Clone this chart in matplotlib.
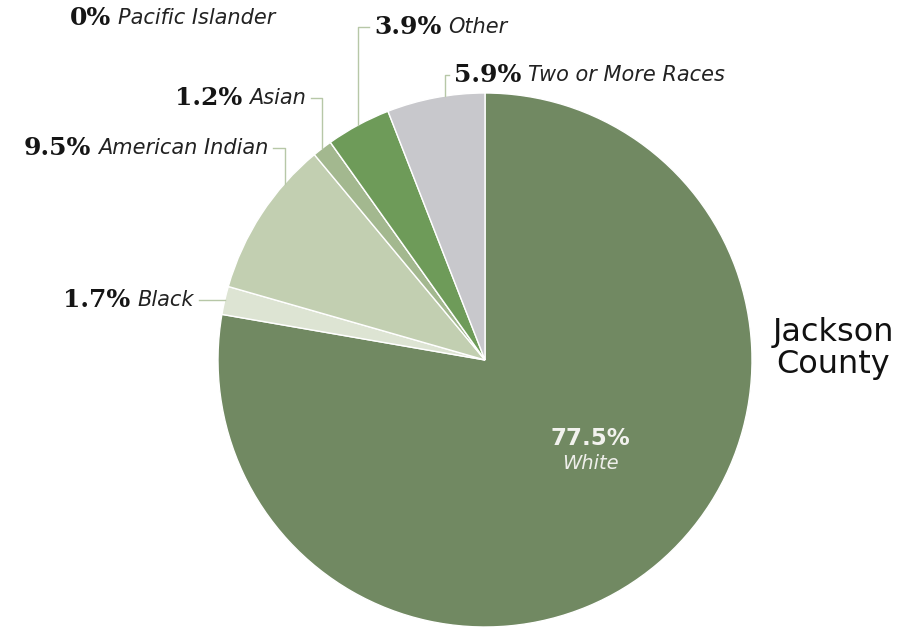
import matplotlib.pyplot as plt
import numpy as np

# race breakdown, clockwise from 12 o'clock
races = ['White', 'Black', 'American Indian', 'Asian', 'Pacific Islander',
         'Other', 'Two or More Races']
shares = [77.5, 1.7, 9.5, 1.2, 0.0, 3.9, 5.9]
colors = ['#718962', '#dde4d3', '#c2cfb1', '#a3b88f', '#8aa877',
          '#6e9b59', '#c8c8cc']

W, H = 917, 628
cx, cy, R = 485, H - 360, 267

fig = plt.figure(figsize=(W / 100, H / 100), dpi=100)
ax = fig.add_axes([0, 0, 1, 1])

wedges, _ = ax.pie(shares, colors=colors, startangle=90, counterclock=False,
                   center=(cx, cy), radius=R,
                   wedgeprops=dict(edgecolor='white', linewidth=1))
ax.set_xlim(0, W)
ax.set_ylim(0, H)
ax.set_aspect('equal')
ax.axis('off')

pct_font = dict(family='DejaVu Serif', weight='bold', size=18, color='#151515')
name_font = dict(family='DejaVu Sans', style='italic', size=15, color='#222222')
line_col = '#b7c7a7'

# label layout: (text x, text y from top or None, side, position along wedge)
layout = {
    'Black': (194, None, 'left', 0.5),
    'American Indian': (268, 148, 'left', 0.74),
    'Asian': (306, 98, 'left', 0.5),
    'Pacific Islander': (70, 18, 'right', None),
    'Other': (374, 27, 'right', 0.5),
    'Two or More Races': (454, 75, 'right', 0.6),
}

for race, val, w in zip(races, shares, wedges):
    if race not in layout:
        continue
    tx, ty, side, frac = layout[race]
    if frac is not None:
        ang = np.deg2rad(w.theta2 - frac * (w.theta2 - w.theta1))
        axp, ayp = cx + R * np.cos(ang), cy + R * np.sin(ang)
    if ty is None:
        y = ayp
    else:
        y = H - ty
    pct = f'{val:g}%'
    if side == 'left':
        t = ax.text(tx, y, race, ha='right', va='center', **name_font)
        ax.annotate(pct, xy=(0, 0.5), xycoords=t, xytext=(-5, 0),
                    textcoords='offset points', ha='right', va='center',
                    **pct_font)
        gx = tx + 5
    else:
        t = ax.text(tx, y, pct, ha='left', va='center', **pct_font)
        ax.annotate(race, xy=(1, 0.5), xycoords=t, xytext=(5, 0),
                    textcoords='offset points', ha='left', va='center',
                    **name_font)
        gx = tx - 5
    if frac is None:
        continue
    if ty is None:
        ax.plot([gx, axp], [y, y], color=line_col, lw=1)
    else:
        ax.plot([gx, axp, axp], [y, y, ayp], color=line_col, lw=1)

# value of the largest slice inside it
ax.text(590, H - 445, f'{shares[0]:g}%', ha='center', va='baseline',
        family='DejaVu Sans', weight='bold', size=16.5, color='#f2f2ee')
ax.text(590, H - 469, races[0], ha='center', va='baseline',
        family='DejaVu Sans', style='italic', size=14, color='#eeeeea')

ax.text(833, H - 341, 'Jackson', ha='center', va='baseline',
        family='DejaVu Sans', size=23, color='#111111')
ax.text(833, H - 373, 'County', ha='center', va='baseline',
        family='DejaVu Sans', size=23, color='#111111')

fig.savefig('out.png', dpi=100)
